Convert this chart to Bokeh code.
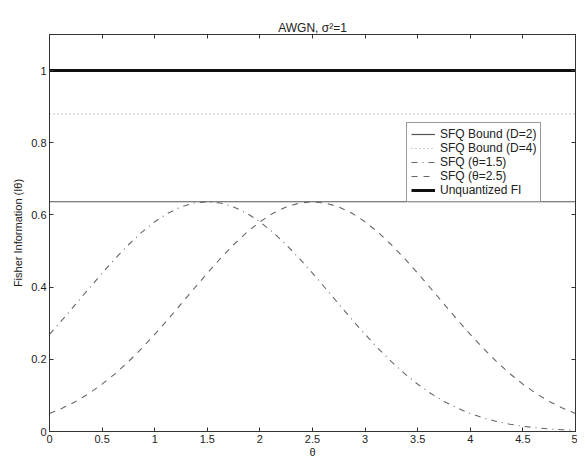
from bokeh.plotting import figure
from bokeh.models import Range1d, LinearAxis, FixedTicker, Legend, LegendItem
from bokeh.embed import file_html
from bokeh.resources import INLINE

# ---- data ----
theta = [i * 0.125 for i in range(41)]

sfq_15 = [0.2691, 0.3104, 0.3531, 0.3962, 0.4386, 0.4794, 0.5174, 0.5516, 0.5810,
          0.6048, 0.6223, 0.6330, 0.6366,
          0.6330, 0.6223, 0.6048, 0.5810, 0.5516, 0.5174, 0.4794, 0.4386, 0.3962,
          0.3531, 0.3104, 0.2691, 0.2299, 0.1936, 0.1605, 0.1311, 0.1054, 0.0834,
          0.0650, 0.0498, 0.0375, 0.0278, 0.0203, 0.0146, 0.0103, 0.0071, 0.0049, 0.0033]

sfq_25 = [0.0498, 0.0650, 0.0834, 0.1054, 0.1311, 0.1605, 0.1936, 0.2299, 0.2691,
          0.3104, 0.3531, 0.3962, 0.4386, 0.4794, 0.5174, 0.5516, 0.5810, 0.6048,
          0.6223, 0.6330, 0.6366,
          0.6330, 0.6223, 0.6048, 0.5810, 0.5516, 0.5174, 0.4794, 0.4386, 0.3962,
          0.3531, 0.3104, 0.2691, 0.2299, 0.1936, 0.1605, 0.1311, 0.1054, 0.0834,
          0.0650, 0.0498]

bound_d2 = 0.6366
bound_d4 = 0.880
unquantized = 1.0

x_ticks = [0, 0.5, 1, 1.5, 2, 2.5, 3, 3.5, 4, 4.5, 5]
y_ticks = [0, 0.2, 0.4, 0.6, 0.8, 1.0]

FONT = "Liberation Sans"

p = figure(width=577, height=460, x_range=Range1d(0, 5), y_range=Range1d(0, 1.1),
           output_backend="svg", toolbar_location=None,
           min_border_left=49, min_border_right=2, min_border_top=34, min_border_bottom=20,
           title="AWGN, σ²=1")
p.title.align = "center"
p.title.text_font = FONT
p.title.text_font_size = "12px"
p.title.text_font_style = "normal"
p.title.text_color = "#222222"
p.title.standoff = 0

p.xgrid.visible = False
p.ygrid.visible = False
p.outline_line_color = "#333333"
p.background_fill_color = "white"
p.border_fill_color = "white"

for ax in (p.xaxis[0], p.yaxis[0]):
    ax.major_tick_in = 4
    ax.major_tick_out = 0
    ax.minor_tick_line_color = None
    ax.axis_line_color = "#333333"
    ax.major_tick_line_color = "#333333"
    ax.major_label_text_font = FONT
    ax.major_label_text_font_size = "11px"
    ax.major_label_text_color = "#222222"
    ax.axis_label_text_font = FONT
    ax.axis_label_text_font_size = "11px"
    ax.axis_label_text_font_style = "normal"
    ax.axis_label_text_color = "#222222"
    ax.major_label_standoff = 3

p.xaxis[0].axis_label_standoff = 0
p.yaxis[0].axis_label_standoff = 4
p.xaxis[0].ticker = FixedTicker(ticks=x_ticks)
p.yaxis[0].ticker = FixedTicker(ticks=y_ticks)
p.xaxis[0].axis_label = "θ"
p.yaxis[0].axis_label = "Fisher Information (Iθ)"

# mirrored tick marks on top and right (no labels drawn)
top = LinearAxis(ticker=FixedTicker(ticks=x_ticks))
right = LinearAxis(ticker=FixedTicker(ticks=y_ticks))
for ax in (top, right):
    ax.major_tick_in = 4
    ax.major_tick_out = 0
    ax.minor_tick_line_color = None
    ax.axis_line_color = "#333333"
    ax.major_tick_line_color = "#333333"
    ax.major_label_text_color = None
    ax.major_label_text_font_size = "1px"
    ax.major_label_standoff = 0
p.add_layout(top, "above")
p.add_layout(right, "right")

r_d2 = p.line([0, 5], [bound_d2, bound_d2], line_color="#555555", line_width=1.2)
r_d4 = p.line([0, 5], [bound_d4, bound_d4], line_color="#a0a0a0", line_width=1.2,
              line_dash="1 3")
r_15 = p.line(theta, sfq_15, line_color="#666666", line_width=1.1, line_dash="6 5 1 5")
r_25 = p.line(theta, sfq_25, line_color="#666666", line_width=1.1, line_dash="6 6")
r_un = p.line([0, 5], [unquantized, unquantized], line_color="#111111", line_width=3)

legend = Legend(items=[
    LegendItem(label="SFQ Bound (D=2)", renderers=[r_d2]),
    LegendItem(label="SFQ Bound (D=4)", renderers=[r_d4]),
    LegendItem(label="SFQ (θ=1.5)", renderers=[r_15]),
    LegendItem(label="SFQ (θ=2.5)", renderers=[r_25]),
    LegendItem(label="Unquantized FI", renderers=[r_un]),
], location=(357, 229))
legend.border_line_color = "#333333"
legend.border_line_width = 1
legend.background_fill_color = "white"
legend.background_fill_alpha = 1
legend.label_text_font = FONT
legend.label_text_font_size = "12px"
legend.label_text_color = "#222222"
legend.glyph_width = 24
legend.glyph_height = 14
legend.label_height = 14
legend.label_standoff = 5
legend.spacing = 0
legend.padding = 4
legend.margin = 0
p.add_layout(legend, "center")

open("out.html", "w").write(file_html(p, INLINE))
